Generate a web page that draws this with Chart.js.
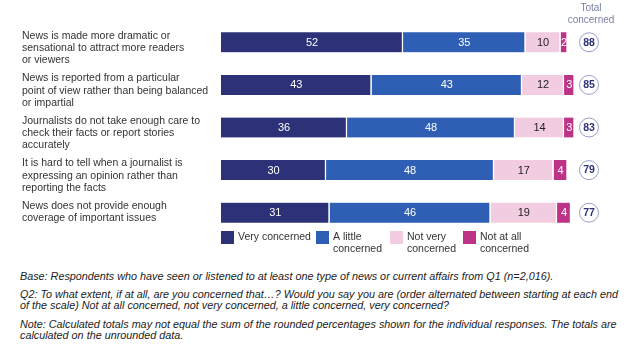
<!DOCTYPE html>
<html>
<head>
<meta charset="utf-8">
<script src="https://cdn.jsdelivr.net/npm/chart.js@4.4.1/dist/chart.umd.min.js"></script>
<style>
  body { margin: 0; background: #fff; }
  #wrap { position: relative; width: 635px; height: 351px; font-family: "Liberation Sans", Arial, sans-serif; }
  #box { position: absolute; left: 0; top: 0; width: 635px; height: 262px; }
  .note { position: absolute; left: 20px; width: 605px; font-size: 10.8px; font-style: italic; color: #222; line-height: 11.2px; }
</style>
</head>
<body>
<div id="wrap">
  <div id="box"><canvas id="myChart"></canvas></div>
  <div class="note" style="top:271px">Base: Respondents who have seen or listened to at least one type of news or current affairs from Q1 (n=2,016).</div>
  <div class="note" style="top:289px">Q2: To what extent, if at all, are you concerned that…? Would you say you are (order alternated between starting at each end of the scale) Not at all concerned, not very concerned, a little concerned, very concerned?</div>
  <div class="note" style="top:319px">Note: Calculated totals may not equal the sum of the rounded percentages shown for the individual responses. The totals are calculated on the unrounded data.</div>
</div>
<script>
// Statements (one array of lines per row)
const categories = [
    ['News is made more dramatic or', 'sensational to attract more readers', 'or viewers'],
    ['News is reported from a particular', 'point of view rather than being balanced', 'or impartial'],
    ['Journalists do not take enough care to', 'check their facts or report stories', 'accurately'],
    ['It is hard to tell when a journalist is', 'expressing an opinion rather than', 'reporting the facts'],
    ['News does not provide enough', 'coverage of important issues']
];

// Series values (%)
const veryConcerned = [52, 43, 36, 30, 31];
const littleConcerned = [35, 43, 48, 48, 46];
const notVeryConcerned = [10, 12, 14, 17, 19];
const notAtAllConcerned = [2, 3, 3, 4, 4];
const totalConcerned = [88, 85, 83, 79, 77];

const seriesNames = [['Very concerned'], ['A little', 'concerned'], ['Not very', 'concerned'], ['Not at all', 'concerned']];
const seriesColors = ['#2d3178', '#2e5fb5', '#f2cde1', '#bd3388'];
const labelColors = ['#ffffff', '#ffffff', '#222222', '#ffffff'];

const FONT = '"Liberation Sans", Arial, sans-serif';

// Draws the statements, value labels, totals and legend
const extrasPlugin = {
    id: 'extras',
    afterDatasetsDraw(chart) {
        const c = chart.ctx;
        c.save();

        // value labels inside the bars
        c.font = '11px ' + FONT;
        c.textAlign = 'center';
        c.textBaseline = 'middle';
        chart.data.datasets.forEach((ds, i) => {
            chart.getDatasetMeta(i).data.forEach((bar, j) => {
                c.fillStyle = labelColors[i];
                c.fillText(ds.data[j], (bar.base + bar.x) / 2, bar.y + 0.5);
            });
        });

        // statements on the left
        const meta = chart.getDatasetMeta(0);
        c.font = '10.5px ' + FONT;
        c.textAlign = 'left';
        c.fillStyle = '#333333';
        categories.forEach((lines, j) => {
            const y = meta.data[j].y;
            lines.forEach((line, k) => {
                c.fillText(line, 22, y - 6.5 + k * 12.3);
            });
        });

        // total concerned circles
        c.textAlign = 'center';
        totalConcerned.forEach((t, j) => {
            const y = meta.data[j].y;
            c.beginPath();
            c.arc(589, y, 9.5, 0, Math.PI * 2);
            c.strokeStyle = '#6a72b0';
            c.lineWidth = 0.7;
            c.stroke();
            c.fillStyle = '#2d3178';
            c.font = 'bold 10.5px ' + FONT;
            c.fillText(t, 589, y + 0.5);
        });

        // header
        c.font = '10px ' + FONT;
        c.fillStyle = '#7b80a8';
        c.fillText('Total', 591, 8);
        c.fillText('concerned', 591, 20.5);

        // legend
        const legendX = [221, 316, 390, 463];
        c.font = '10.5px ' + FONT;
        seriesNames.forEach((name, i) => {
            c.fillStyle = seriesColors[i];
            c.fillRect(legendX[i], 231, 13, 13);
            c.fillStyle = '#333333';
            c.textAlign = 'left';
            name.forEach((line, k) => {
                c.fillText(line, legendX[i] + 17, 237.5 + k * 12);
            });
        });

        c.restore();
    }
};

const ctx = document.getElementById('myChart').getContext('2d');
const myChart = new Chart(ctx, {
    type: 'bar',
    data: {
        labels: categories,
        datasets: [veryConcerned, littleConcerned, notVeryConcerned, notAtAllConcerned].map((d, i) => ({
            label: seriesNames[i].join(' '),
            data: d,
            backgroundColor: seriesColors[i],
            borderColor: '#ffffff',
            borderWidth: { top: 0, bottom: 0, left: 0, right: 1.5 },
            borderSkipped: false,
            barThickness: 20
        }))
    },
    options: {
        indexAxis: 'y',
        responsive: true,
        maintainAspectRatio: false,
        animation: false,
        layout: { padding: { left: 221, right: 60.5, top: 21, bottom: 28 } },
        scales: {
            x: { stacked: true, display: false, min: 0, max: 101 },
            y: { stacked: true, display: false }
        },
        plugins: {
            legend: { display: false },
            tooltip: { enabled: false }
        }
    },
    plugins: [extrasPlugin]
});
</script>
</body>
</html>
